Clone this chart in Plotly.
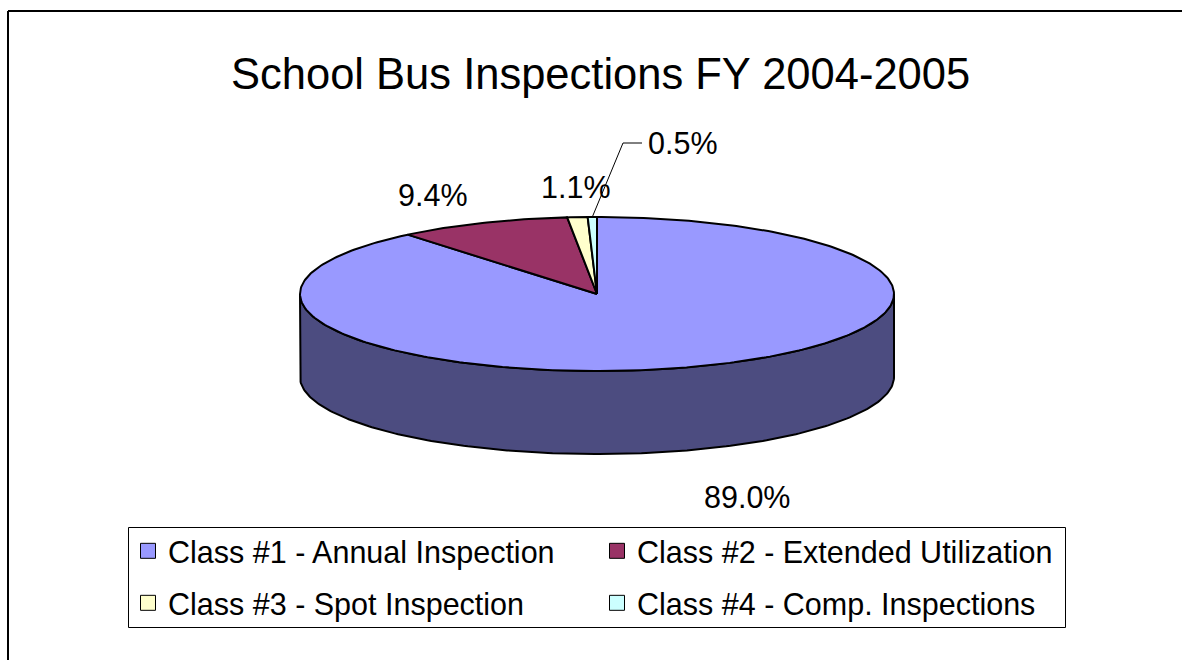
import numpy as np
import plotly.graph_objects as go

# ---------------- data ----------------
categories = [
    "Class #1 - Annual Inspection",
    "Class #2 - Extended Utilization",
    "Class #3 - Spot Inspection",
    "Class #4 - Comp. Inspections",
]
values = [89.0, 9.4, 1.1, 0.5]
title_text = "School Bus Inspections FY 2004-2005"

# ---------------- style ----------------
top_colors = ["#9999FF", "#993366", "#FFFFCC", "#CCFFFF"]
side_colors = ["#4C4C80", "#4D1A33", "#808066", "#668080"]
FONT = "Liberation Sans, Arial, sans-serif"
W, H = 1182, 660
CX, CY, RX, RY, DEPTH = 597, 294, 297, 77, 83
label_pos = [(747, 497), (433, 195), (576, 187), (683, 143)]

total = float(sum(values))
fracs = np.array(values) / total
ends = np.cumsum(fracs) * 2 * np.pi
starts = ends - fracs * 2 * np.pi


def ell(theta, dy=0.0):
    return CX + RX * np.sin(theta), CY - RY * np.cos(theta) + dy


fig = go.Figure()

# side walls (front half only: theta in [pi/2, 3pi/2])
for i in range(len(values)):
    a = max(starts[i], np.pi / 2)
    b = min(ends[i], 3 * np.pi / 2)
    if b <= a:
        continue
    t = np.linspace(a, b, 200)
    xt, yt = ell(t)
    xb, yb = ell(t[::-1], DEPTH)
    xs = np.concatenate([xt, xb, xt[:1]])
    ys = np.concatenate([yt, yb, yt[:1]])
    fig.add_trace(go.Scatter(x=xs, y=ys, mode="lines", fill="toself",
                             fillcolor=side_colors[i],
                             line=dict(color="black", width=2),
                             showlegend=False, hoverinfo="skip"))

# top faces
for i in range(len(values)):
    n = max(int(400 * fracs[i]), 8)
    t = np.linspace(starts[i], ends[i], n)
    xa, ya = ell(t)
    xs = np.concatenate([[CX], xa, [CX]])
    ys = np.concatenate([[CY], ya, [CY]])
    fig.add_trace(go.Scatter(x=xs, y=ys, mode="lines", fill="toself",
                             fillcolor=top_colors[i],
                             line=dict(color="black", width=2),
                             showlegend=False, hoverinfo="skip"))

# legend entries
for i, cat in enumerate(categories):
    fig.add_trace(go.Scatter(
        x=[None], y=[None], mode="markers", name=cat,
        marker=dict(symbol="square", size=15, color=top_colors[i],
                    line=dict(color="black", width=1)),
        legend="legend" if i < 2 else "legend2", showlegend=True))

annotations = []
for i, v in enumerate(values):
    lx, ly = label_pos[i]
    annotations.append(dict(x=lx, y=ly, xref="x", yref="y", text=f"{v:.1f}%",
                            showarrow=False, xanchor="center", yanchor="middle",
                            font=dict(family=FONT, size=30.5, color="black")))
annotations.append(dict(x=600, y=74, xref="x", yref="y", text=title_text,
                        showarrow=False, xanchor="center", yanchor="middle",
                        font=dict(family=FONT, size=43.5, color="black")))

# leader line for the smallest slice
mid_last = (starts[-1] + ends[-1]) / 2
sx, sy = ell(mid_last)
shapes = [
    dict(type="path", xref="x", yref="y",
         path=f"M {sx:.1f},{sy:.1f} L 623,143 L 642,143",
         line=dict(color="black", width=1)),
    # legend box
    dict(type="rect", xref="x", yref="y", x0=128.5, y0=527.5, x1=1065.5, y1=627.5,
         line=dict(color="black", width=1), fillcolor="rgba(0,0,0,0)"),
    # outer chart frame (top and left edges)
    dict(type="line", xref="x", yref="y", x0=8, y0=11, x1=W, y1=11,
         line=dict(color="black", width=2)),
    dict(type="line", xref="x", yref="y", x0=8, y0=11, x1=8, y1=H,
         line=dict(color="black", width=2)),
]

leg_common = dict(orientation="h", xanchor="left", yanchor="middle",
                  entrywidth=424, entrywidthmode="pixels",
                  font=dict(size=30.5, family=FONT, color="black"),
                  bgcolor="rgba(0,0,0,0)", borderwidth=0, traceorder="normal",
                  itemclick=False, itemdoubleclick=False)

fig.update_layout(
    width=W, height=H, autosize=False,
    margin=dict(l=0, r=0, t=0, b=0),
    paper_bgcolor="white", plot_bgcolor="white",
    xaxis=dict(range=[0, W], visible=False, fixedrange=True),
    yaxis=dict(range=[H, 0], visible=False, fixedrange=True),
    annotations=annotations, shapes=shapes,
    legend=dict(x=128 / W, y=1 - 551 / H, **leg_common),
    legend2=dict(x=128 / W, y=1 - 603 / H, **leg_common),
    showlegend=True,
)

fig.write_html(
    "out.html",
    config={"displayModeBar": False},
    post_script=(
        "document.body.style.margin='0px';"
        "document.body.style.overflow='hidden';"
        "document.documentElement.style.overflow='hidden';"
    ),
)
